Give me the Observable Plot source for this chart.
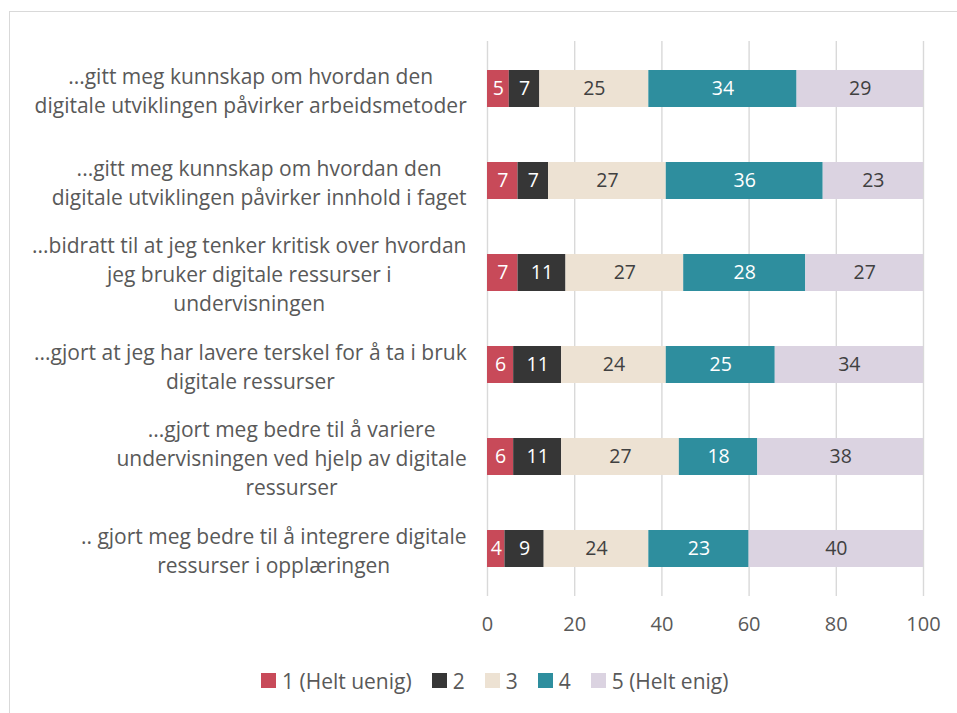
<!DOCTYPE html>
<html>
<head>
<meta charset="utf-8">
<script src="https://cdn.jsdelivr.net/npm/d3@7"></script>
<script src="https://cdn.jsdelivr.net/npm/@observablehq/plot@0.6"></script>
<style>
  html, body { margin: 0; padding: 0; background: #fff; overflow: hidden; }
  #frame { position: absolute; left: 9px; top: 11px; width: 1000px; height: 800px;
           border: 1.5px solid #d9d9d9; pointer-events: none; }
  #chart { position: absolute; left: 0; top: 0; }
  #legend { position: absolute; left: 261px; top: 664px; }
  #legend svg { margin-right: 6px !important; }
  #legend > div > span { margin-right: 20px !important; }
</style>
</head>
<body>
<div id="chart"></div>
<div id="legend"></div>
<div id="frame"></div>
<script>
const categories = [
  "...gitt meg kunnskap om hvordan den\ndigitale utviklingen påvirker arbeidsmetoder",
  "...gitt meg kunnskap om hvordan den\ndigitale utviklingen påvirker innhold i faget",
  "...bidratt til at jeg tenker kritisk over hvordan\njeg bruker digitale ressurser i\nundervisningen",
  "...gjort at jeg har lavere terskel for å ta i bruk\ndigitale ressurser",
  "...gjort meg bedre til å variere\nundervisningen ved hjelp av digitale\nressurser",
  ".. gjort meg bedre til å integrere digitale\nressurser i opplæringen"
];
const series = ["1 (Helt uenig)", "2", "3", "4", "5 (Helt enig)"];
const colors = ["#c84a59", "#363636", "#ede2d3", "#2e8e9e", "#dbd3e1"];
const labelColors = ["#ffffff", "#ffffff", "#404040", "#ffffff", "#404040"];
const s1 = [5, 7, 7, 6, 6, 4];
const s2 = [7, 7, 11, 11, 11, 9];
const s3 = [25, 27, 27, 24, 27, 24];
const s4 = [34, 36, 28, 25, 18, 23];
const s5 = [29, 23, 27, 34, 38, 40];
const xTicks = [0, 20, 40, 60, 80, 100];

const seriesValues = [s1, s2, s3, s4, s5];
const data = [];
series.forEach((s, si) => {
  categories.forEach((c, ci) => {
    data.push({cat: c, series: s, value: seriesValues[si][ci], labelColor: labelColors[si]});
  });
});

const FONT = "'Open Sans', sans-serif";
const stackOpts = {x: "value", y: "cat", z: "series"};

const plot = Plot.plot({
  width: 957,
  height: 645,
  marginLeft: 487,
  marginRight: 34,
  marginTop: 41,
  marginBottom: 49,
  style: {fontFamily: FONT, fontSize: "19px", color: "#595959", background: "transparent"},
  x: {domain: [0, 100]},
  y: {domain: categories, paddingInner: 0.6, paddingOuter: 0.3},
  color: {domain: series, range: colors},
  marks: [
    Plot.gridX(xTicks, {stroke: "#d9d9d9", strokeOpacity: 1, strokeWidth: 1.4}),
    Plot.barX(data, Plot.stackX({...stackOpts, fill: "series"})),
    Plot.text(data, Plot.stackX({...stackOpts, text: d => d.labelColor === "#ffffff" ? String(d.value) : "", fill: "#ffffff", fontSize: 19.5})),
    Plot.text(data, Plot.stackX({...stackOpts, text: d => d.labelColor !== "#ffffff" ? String(d.value) : "", fill: "#404040", fontSize: 19.5})),
    Plot.axisX({ticks: xTicks, tickSize: 0, tickPadding: 20, fontSize: 20, fill: "#595959", label: null}),
    Plot.axisY({tickSize: 0, tickPadding: 21, fontSize: 21, fill: "#595959", lineHeight: 1.38, label: null})
  ]
});
document.getElementById("chart").appendChild(plot);

// center the lines of each multi-line category label within its right-aligned block
plot.querySelectorAll("[aria-label='y-axis tick label'] text").forEach(t => {
  const b = t.getBBox();
  const cx = b.x + b.width / 2;
  t.setAttribute("text-anchor", "middle");
  t.querySelectorAll("tspan").forEach(ts => ts.setAttribute("x", cx));
  if (!t.querySelector("tspan")) t.setAttribute("x", cx);
});

const legend = Plot.legend({
  color: {type: "ordinal", domain: series, range: colors},
  swatchSize: 15,
  style: {fontFamily: FONT, fontSize: "21px", color: "#595959", margin: 0}
});
document.getElementById("legend").appendChild(legend);
</script>
</body>
</html>
